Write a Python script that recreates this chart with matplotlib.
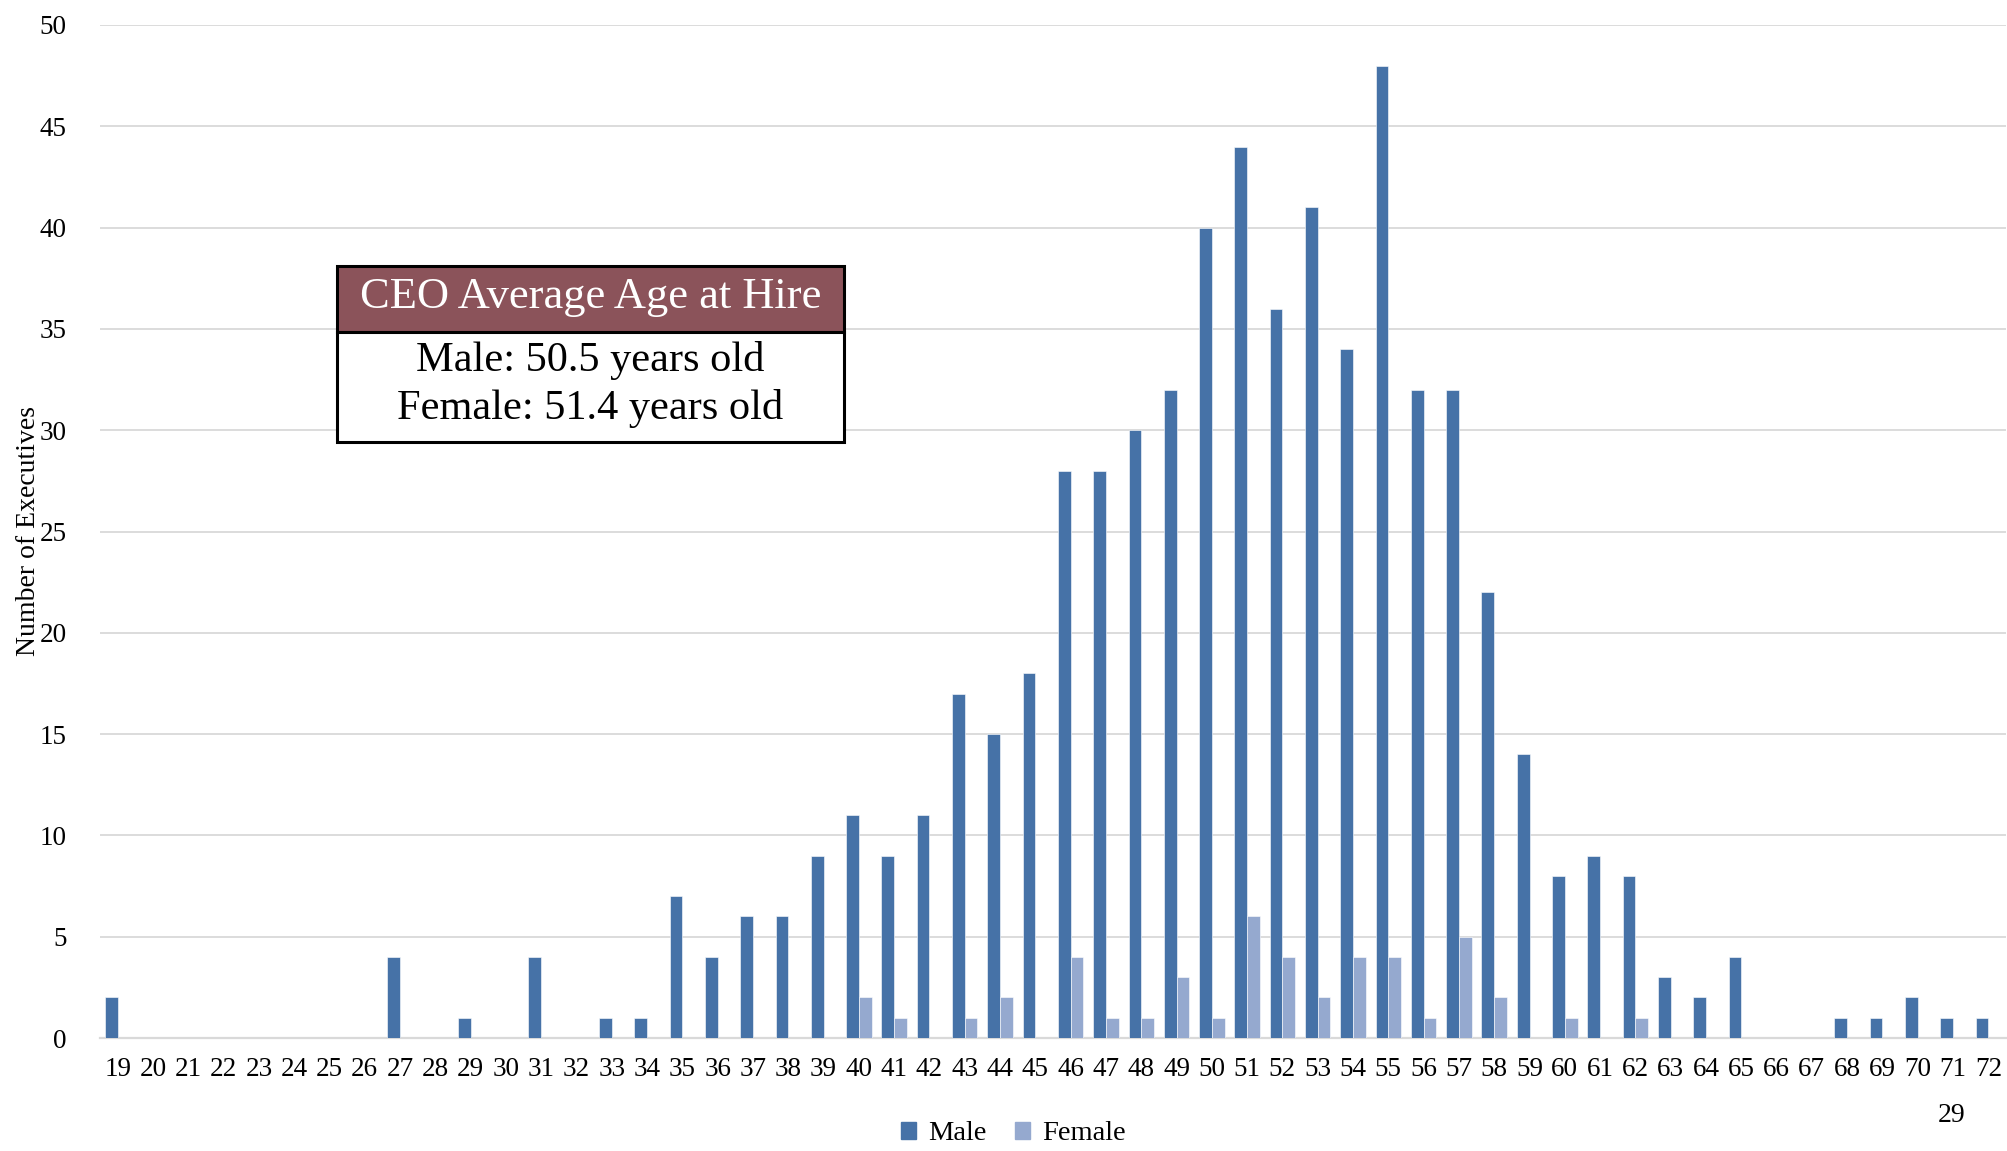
import numpy as np
import matplotlib
matplotlib.use("Agg")
import matplotlib.pyplot as plt
from matplotlib.patches import Rectangle, Patch

# вік при призначенні
ages = list(range(19, 73))
male = [2, 0, 0, 0, 0, 0, 0, 0, 4, 0, 1, 0, 4, 0, 1, 1, 7, 4, 6, 6, 9,
        11, 9, 11, 17, 15, 18, 28, 28, 30, 32, 40, 44, 36, 41, 34, 48, 32, 32, 22,
        14, 8, 9, 8, 3, 2, 4, 0, 0, 1, 1, 2, 1, 1]
female = [0] * 21 + [2, 1, 0, 1, 2, 0, 4, 1, 1, 3, 1, 6, 4, 2, 4, 4, 1, 5, 2,
                     0, 1, 0, 1, 0, 0, 0, 0, 0, 0, 0, 0, 0, 0]
series_names = ["Male", "Female"]
box_title = "CEO Average Age at Hire"
box_lines = ["Male: 50.5 years old", "Female: 51.4 years old"]

male_color = "#4672A7"
female_color = "#95A9CF"

plt.rcParams["font.family"] = ["Liberation Serif", "DejaVu Serif"]

W, H = 2007, 1151
fig = plt.figure(figsize=(W / 100, H / 100), dpi=100)
ax = fig.add_axes([100 / W, 1 - 1038 / H, 1906 / W, 1013 / H])

x = np.arange(len(ages))
w = 0.36
ax.bar(x - w / 2, male, w, color=male_color, edgecolor="white", linewidth=0.4, zorder=3)
ax.bar(x + w / 2, female, w, color=female_color, edgecolor="white", linewidth=0.4, zorder=3)

ax.set_xlim(-0.5, len(ages) - 0.5)
ax.set_ylim(0, 50)
ax.set_yticks(range(0, 51, 5))
ax.set_xticks(x)
ax.set_xticklabels([str(a) for a in ages])
ax.tick_params(axis="x", length=0, labelsize=19.5, pad=14)
ax.tick_params(axis="y", length=0, labelsize=19.5, pad=24)
ax.yaxis.grid(True, color="#D9D9D9", linewidth=1.3, zorder=0)
for s in ["top", "right", "left"]:
    ax.spines[s].set_visible(False)
ax.spines["bottom"].set_color("#D9D9D9")
ax.spines["bottom"].set_linewidth(1.6)
ax.set_ylabel("Number of Executives", fontsize=20)
ax.yaxis.set_label_coords(-0.031, 0.5)

# рамка з середнім віком
bx0, bx1 = 337 / W, 844 / W
by_top, by_mid, by_bot = 1 - 266 / H, 1 - 332 / H, 1 - 442 / H
fig.patches.append(Rectangle((bx0, by_mid), bx1 - bx0, by_top - by_mid,
                             transform=fig.transFigure, facecolor="#8B535A",
                             edgecolor="black", linewidth=2.2, zorder=5))
fig.patches.append(Rectangle((bx0, by_bot), bx1 - bx0, by_mid - by_bot,
                             transform=fig.transFigure, facecolor="white",
                             edgecolor="black", linewidth=2.2, zorder=5))
cx = (bx0 + bx1) / 2
fig.text(cx, (by_top + by_mid) / 2 + 0.002, box_title, ha="center", va="center",
         color="white", fontsize=32, zorder=6)
fig.text(cx, 1 - 360 / H, box_lines[0], ha="center", va="center", fontsize=30.5, zorder=6)
fig.text(cx, 1 - 408 / H, box_lines[1], ha="center", va="center", fontsize=30.5, zorder=6)

handles = [Patch(color=male_color), Patch(color=female_color)]
fig.legend(handles, series_names, loc="center", bbox_to_anchor=(1013 / W, 1 - 1134 / H),
           ncol=2, frameon=False, fontsize=20.5, handlelength=0.55, handleheight=0.55,
           handletextpad=0.4, columnspacing=1.0)

# номер сторінки
fig.text(1952 / W, 1 - 1116 / H, "29", ha="center", va="center", fontsize=20)

fig.savefig("out.png", dpi=100)
